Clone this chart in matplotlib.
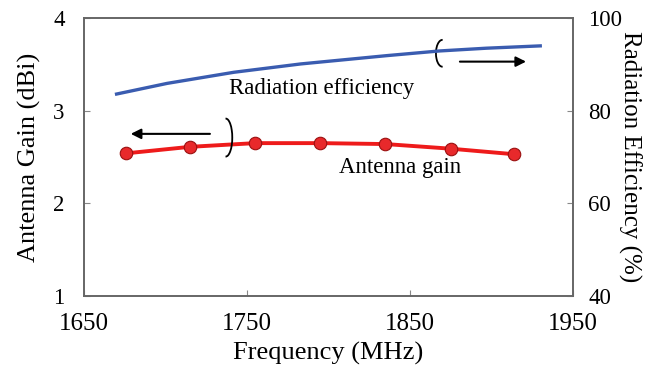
import matplotlib.pyplot as plt
from matplotlib.patches import Arc

# antenna gain (left axis)
gain_freq = [1676, 1715, 1755, 1795, 1835, 1875, 1914]
gain_dbi = [2.54, 2.61, 2.65, 2.65, 2.64, 2.59, 2.53]

# radiation efficiency (right axis)
eff_freq = [1670, 1701, 1742, 1783, 1836, 1868, 1897, 1930]
eff_pct = [83.6, 85.9, 88.3, 90.1, 91.9, 92.9, 93.5, 94.0]

x_ticks = [1650, 1750, 1850, 1950]
left_ticks = [1, 2, 3, 4]
right_ticks = [40, 60, 80, 100]

plt.rcParams["font.family"] = ["Liberation Serif", "DejaVu Serif"]

fig, ax = plt.subplots(figsize=(6.48, 3.77), dpi=100)
fig.subplots_adjust(left=0.1296, right=0.884, top=0.952, bottom=0.215)
ax2 = ax.twinx()

ax.plot(gain_freq, gain_dbi, color="#ee1b1b", lw=2.8, marker="o", ms=9,
        mfc="#e8292b", mec="#9a1010", mew=0.8, zorder=3)
ax2.plot(eff_freq, eff_pct, color="#3a5cb0", lw=2.4)

ax.set_xlim(1650, 1950)
ax.set_ylim(1, 4)
ax2.set_ylim(40, 100)
ax.set_xticks(x_ticks)
ax.set_yticks(left_ticks)
ax2.set_yticks(right_ticks)

for a in (ax, ax2):
    a.tick_params(direction="in", length=4, color="#888888", labelsize=16.5, pad=14)
    for s in a.spines.values():
        s.set_color("#666666")
        s.set_linewidth(1.2)
ax.tick_params(axis="x", labelsize=18, pad=12)
ax2.tick_params(axis="y", pad=11)

ax.set_xlabel("Frequency (MHz)", fontsize=19, labelpad=5)
ax.set_ylabel("Antenna Gain (dBi)", fontsize=19, labelpad=9)
ax2.set_ylabel("Radiation Efficiency (%)", fontsize=18, rotation=270, labelpad=14)

ax.text(1796, 3.24, "Radiation efficiency", ha="center", va="center", fontsize=16.5)
ax.text(1844, 2.39, "Antenna gain", ha="center", va="center", fontsize=16.5)

# arrows telling which axis each curve belongs to
ax.annotate("", xy=(1677, 2.75), xytext=(1729, 2.75),
            arrowprops=dict(arrowstyle="-|>", color="black", lw=1.5, mutation_scale=15))
ax.annotate("", xy=(1923, 3.53), xytext=(1879, 3.53),
            arrowprops=dict(arrowstyle="-|>", color="black", lw=1.5, mutation_scale=15))
ax.add_patch(Arc((1737, 2.71), 8, 0.41, theta1=-125, theta2=125, color="black", lw=1.3, zorder=4))
ax.add_patch(Arc((1870, 3.62), 8, 0.29, theta1=55, theta2=305, color="black", lw=1.3, zorder=4))

fig.savefig("out.png")
